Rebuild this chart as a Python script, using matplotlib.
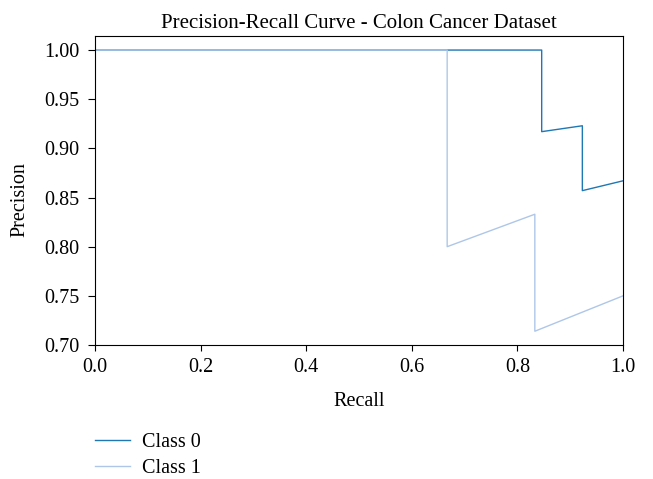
import matplotlib
matplotlib.use('Agg')
import matplotlib.pyplot as plt

plt.rcParams['font.family'] = ['Liberation Serif', 'DejaVu Serif']

# 精確率-召回率曲線的點
recall_0 = [0.0, 0.846, 0.846, 0.923, 0.923, 1.0]
precision_0 = [1.0, 1.0, 0.917, 0.923, 0.857, 0.867]

recall_1 = [0.0, 0.667, 0.667, 0.833, 0.833, 1.0]
precision_1 = [1.0, 1.0, 0.8, 0.833, 0.714, 0.75]

labels = ['Class 0', 'Class 1']
colors = ['#1f77b4', '#aec7e8']

fig = plt.figure(figsize=(6.53, 4.79), dpi=100)
ax = fig.add_axes([95/653, 1-345/479, (623-95)/653, (345-36)/479])

ax.plot(recall_0, precision_0, color=colors[0], lw=1.0, label=labels[0])
ax.plot(recall_1, precision_1, color=colors[1], lw=1.0, label=labels[1])

ax.set_xlim(0, 1.0)
ax.set_ylim(0.70, 1.0143)
ax.set_xticks([0.0, 0.2, 0.4, 0.6, 0.8, 1.0])
ax.set_yticks([0.70, 0.75, 0.80, 0.85, 0.90, 0.95, 1.00])
ax.tick_params(labelsize=14.5)
ax.tick_params(axis='y', length=5, pad=6.5)
ax.tick_params(axis='x', length=4, pad=5)
ax.set_xlabel('Recall', fontsize=14.5, labelpad=11)
ax.set_ylabel('Precision', fontsize=14.5)
ax.yaxis.set_label_coords(-0.125, 0.47)
ax.set_title('Precision-Recall Curve - Colon Cancer Dataset', fontsize=15)

ax.legend(loc='upper left', bbox_to_anchor=(-0.015, -0.26), frameon=False,
          fontsize=14.5, handlelength=1.75, borderaxespad=0, labelspacing=0.3,
          handletextpad=0.6)

plt.savefig('out.png', dpi=100)
